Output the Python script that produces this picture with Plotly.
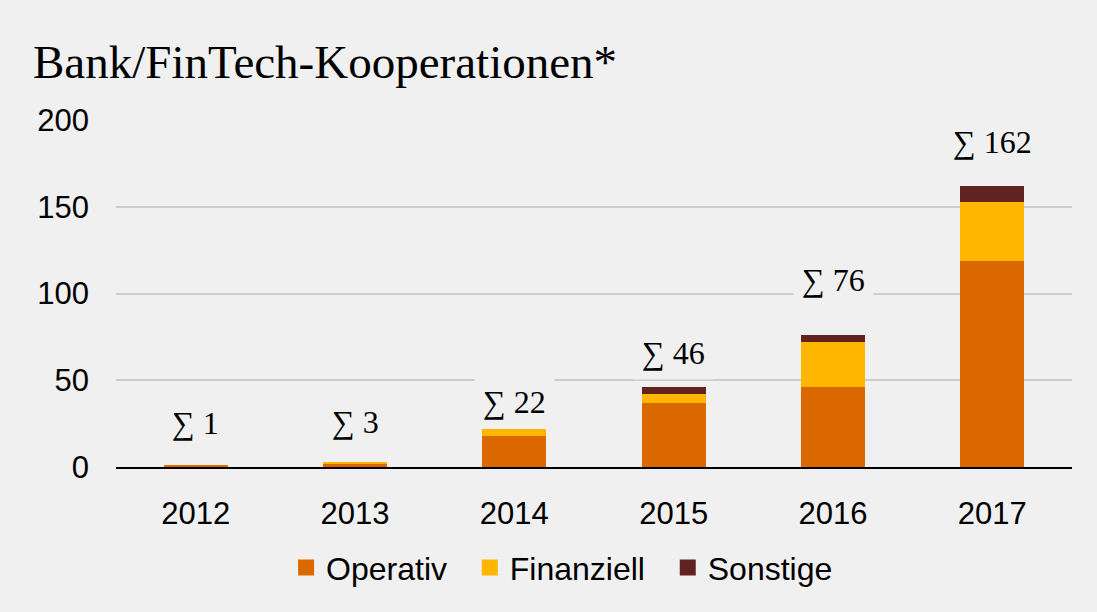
import plotly.graph_objects as go

years = ["2012", "2013", "2014", "2015", "2016", "2017"]
operativ = [1, 2, 18, 37, 46, 119]
finanziell = [0, 1, 4, 5, 26, 34]
sonstige = [0, 0, 0, 4, 4, 9]
series_names = ["Operativ", "Finanziell", "Sonstige"]
y_ticks = [0, 50, 100, 150, 200]
title_text = "Bank/FinTech-Kooperationen*"

colors = ["#DC6900", "#FFB600", "#602320"]
bg = "#F0F0F0"
label_shift = [42, 40, 27, 34, 55, 44]
legend_pad = "\u00a0\u00a0"

fig = go.Figure()
for name, vals, col in zip(series_names, [operativ, finanziell, sonstige], colors):
    fig.add_trace(go.Bar(x=years, y=vals, name=name, marker_color=col,
                         marker_line_width=0, width=0.4, showlegend=False))
for name, col in zip(series_names, colors):
    fig.add_trace(go.Scatter(x=[years[0]], y=[None], mode="markers",
                             name=name + legend_pad,
                             marker=dict(symbol="square", size=17, color=col)))

totals = [a + b + c for a, b, c in zip(operativ, finanziell, sonstige)]
for i, (tot, sh) in enumerate(zip(totals, label_shift)):
    fig.add_annotation(x=i, y=tot, yshift=sh, text=f"∑ {tot}", showarrow=False,
                       yanchor="middle", xanchor="center",
                       font=dict(family="Liberation Serif", size=32, color="#000"),
                       bgcolor=bg, borderpad=8)

fig.update_layout(
    barmode="stack",
    width=1097, height=612,
    paper_bgcolor=bg, plot_bgcolor=bg,
    margin=dict(l=116, r=25, t=120, b=145),
    title=dict(text=title_text, x=33/1097, xanchor="left", xref="container",
               y=1 - 62/612, yanchor="middle", yref="container",
               font=dict(family="Liberation Serif", size=47, color="#000")),
    font=dict(family="Liberation Sans", size=31, color="#000"),
    legend=dict(orientation="h", x=0.18 - 2/956, xanchor="left", y=-0.29,
                yanchor="middle", font=dict(size=32), bgcolor="rgba(0,0,0,0)",
                itemwidth=30, traceorder="normal"),
    xaxis=dict(type="category", categoryorder="array", categoryarray=years,
               range=[-0.5, len(years) - 0.5], showgrid=False, showline=True,
               linecolor="#000", linewidth=2, ticks="", ticklabelstandoff=18),
    yaxis=dict(range=[0, 200], tickvals=y_ticks, showgrid=True, gridcolor="#CCCCCC",
               gridwidth=1.5, zeroline=False, ticks="", ticklabelstandoff=26,
               showline=False),
)

fig.write_html("out.html", config={"displayModeBar": False},
               post_script="document.body.style.margin='0';"
                           "document.body.style.background='#F0F0F0';")
